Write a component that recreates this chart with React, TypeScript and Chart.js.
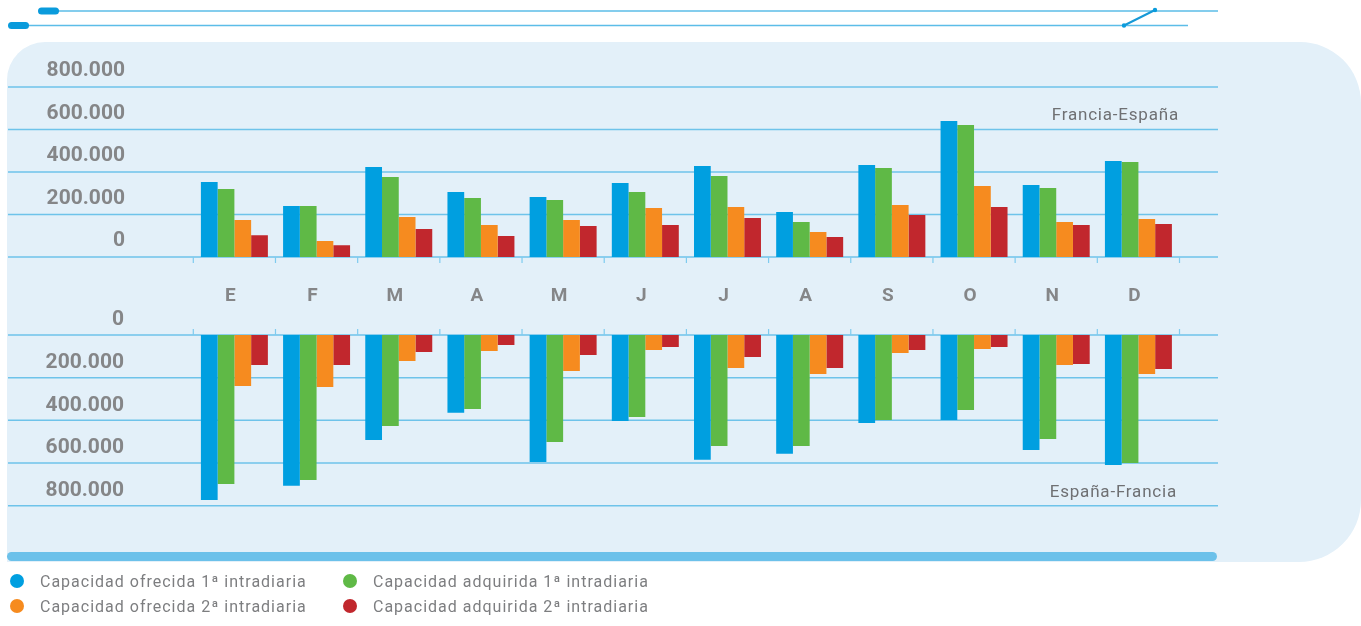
import React, { useEffect, useRef } from 'react';
import { Chart, registerables } from 'chart.js';

Chart.register(...registerables);

// ---- data ----
const months = ['E', 'F', 'M', 'A', 'M', 'J', 'J', 'A', 'S', 'O', 'N', 'D'];
const seriesNames = [
  'Capacidad ofrecida 1ª intradiaria',
  'Capacidad adquirida 1ª intradiaria',
  'Capacidad ofrecida 2ª intradiaria',
  'Capacidad adquirida 2ª intradiaria',
];
const seriesColors = ['#009fe0', '#5fb946', '#f68b1f', '#c1272d'];

// Francia-España (upper panel)
const frEsOfrecida1 = [353000, 240000, 424000, 306000, 282000, 348000, 428000, 212000, 433000, 640000, 339000, 452000];
const frEsAdquirida1 = [320000, 240000, 376000, 278000, 268000, 306000, 381000, 165000, 419000, 621000, 325000, 447000];
const frEsOfrecida2 = [174000, 75000, 188000, 151000, 174000, 231000, 235000, 118000, 245000, 334000, 165000, 179000];
const frEsAdquirida2 = [103000, 56000, 132000, 99000, 146000, 151000, 184000, 94000, 198000, 235000, 151000, 155000];

// España-Francia (lower panel)
const esFrOfrecida1 = [773000, 707000, 492000, 365000, 595000, 403000, 585000, 557000, 412000, 398000, 539000, 609000];
const esFrAdquirida1 = [698000, 679000, 426000, 347000, 501000, 384000, 520000, 520000, 398000, 351000, 487000, 600000];
const esFrOfrecida2 = [239000, 244000, 122000, 75000, 169000, 70000, 155000, 183000, 84000, 66000, 141000, 183000];
const esFrAdquirida2 = [141000, 141000, 80000, 47000, 94000, 56000, 103000, 155000, 70000, 56000, 136000, 159000];

const tickValues = [0, 200000, 400000, 600000, 800000];
const tickLabels = ['0', '200.000', '400.000', '600.000', '800.000'];
const topTitle = 'Francia-España';
const bottomTitle = 'España-Francia';

// scale ranges (upper panel grows up, lower panel grows down)
const topMin = -1170000;
const topMax = 800000;
const botMin = -1162000;
const botMax = 800000;

const W = 1361;
const H = 626;
const GRID = '#6ec3ea';
const LABEL = '#858688';

function roundRectPath(ctx: CanvasRenderingContext2D, x: number, y: number, w: number, h: number, r: number) {
  ctx.beginPath();
  ctx.moveTo(x + r, y);
  ctx.lineTo(x + w - r, y);
  ctx.arcTo(x + w, y, x + w, y + r, r);
  ctx.lineTo(x + w, y + h - r);
  ctx.arcTo(x + w, y + h, x + w - r, y + h, r);
  ctx.lineTo(x + r, y + h);
  ctx.arcTo(x, y + h, x, y + h - r, r);
  ctx.lineTo(x, y + r);
  ctx.arcTo(x, y, x + r, y, r);
  ctx.closePath();
}

const decorPlugin = {
  id: 'decor',
  beforeDraw(chart: any) {
    const ctx: any = chart.ctx;
    const xs = chart.scales.x;
    const yT = chart.scales.yTop;
    const yB = chart.scales.yBot;
    ctx.save();

    // panel background
    ctx.fillStyle = '#e3f0f9';
    ctx.beginPath();
    ctx.moveTo(45, 42);
    ctx.lineTo(1300, 42);
    ctx.arcTo(1361, 42, 1361, 103, 61);
    ctx.lineTo(1361, 500);
    ctx.arcTo(1361, 562, 1299, 562, 62);
    ctx.lineTo(7, 562);
    ctx.lineTo(7, 80);
    ctx.arcTo(7, 42, 45, 42, 38);
    ctx.closePath();
    ctx.fill();

    // top decorative lines
    ctx.strokeStyle = '#5cbde8';
    ctx.lineWidth = 1.5;
    ctx.beginPath();
    ctx.moveTo(45, 11);
    ctx.lineTo(1218, 11);
    ctx.moveTo(15, 25.5);
    ctx.lineTo(1188, 25.5);
    ctx.stroke();
    ctx.fillStyle = '#0a9bdc';
    roundRectPath(ctx, 38, 7.5, 21, 7, 3.5);
    ctx.fill();
    roundRectPath(ctx, 8, 22, 21, 7, 3.5);
    ctx.fill();
    ctx.strokeStyle = '#1598d6';
    ctx.lineWidth = 2;
    ctx.beginPath();
    ctx.moveTo(1124, 25.5);
    ctx.lineTo(1155, 10);
    ctx.stroke();
    ctx.beginPath();
    ctx.arc(1124, 25.5, 2.2, 0, Math.PI * 2);
    ctx.arc(1155, 10, 2.2, 0, Math.PI * 2);
    ctx.fill();

    // grid lines
    ctx.strokeStyle = GRID;
    ctx.lineWidth = 1.5;
    for (const v of tickValues) {
      for (const sc of [yT, yB]) {
        const y = sc.getPixelForValue(v);
        ctx.beginPath();
        ctx.moveTo(8, y);
        ctx.lineTo(1218, y);
        ctx.stroke();
      }
    }

    // category tick marks
    const y0T = yT.getPixelForValue(0);
    const y0B = yB.getPixelForValue(0);
    ctx.lineWidth = 1.2;
    ctx.strokeStyle = '#7fcbef';
    for (let i = 0; i <= months.length; i++) {
      const x = xs.left + (i * xs.width) / months.length;
      ctx.beginPath();
      ctx.moveTo(x, y0T);
      ctx.lineTo(x, y0T + 6);
      ctx.moveTo(x, y0B - 6);
      ctx.lineTo(x, y0B);
      ctx.stroke();
    }

    // y labels
    ctx.fillStyle = LABEL;
    ctx.font = 'bold 21px Roboto';
    ctx.textAlign = 'right';
    ctx.textBaseline = 'middle';
    tickValues.forEach((v, i) => {
      ctx.fillText(tickLabels[i], 125, yT.getPixelForValue(v) - 16);
      ctx.fillText(tickLabels[i], 124, yB.getPixelForValue(v) - 15);
    });

    // month labels
    ctx.font = 'bold 19px Roboto';
    ctx.textAlign = 'center';
    const yMid = (y0T + y0B) / 2 + 0.5;
    months.forEach((m, i) => {
      ctx.fillText(m, xs.getPixelForValue(i) - 4, yMid);
    });

    // panel titles
    ctx.font = '17px Roboto';
    ctx.letterSpacing = '0.8px';
    ctx.fillStyle = '#6f7073';
    ctx.textAlign = 'right';
    ctx.fillText(topTitle, 1179, yT.getPixelForValue(600000) - 14);
    ctx.fillText(bottomTitle, 1177, yB.getPixelForValue(800000) - 13);
    ctx.letterSpacing = '0px';

    // bottom bar
    ctx.fillStyle = '#6cc1ea';
    roundRectPath(ctx, 7, 552, 1210, 9, 4.5);
    ctx.fill();

    ctx.restore();
  },
};

export default function App() {
  const ref = useRef<HTMLCanvasElement>(null);

  useEffect(() => {
    if (!ref.current) return;
    const topSeries = [frEsOfrecida1, frEsAdquirida1, frEsOfrecida2, frEsAdquirida2];
    const botSeries = [esFrOfrecida1, esFrAdquirida1, esFrOfrecida2, esFrAdquirida2];
    const datasets: any[] = [];
    topSeries.forEach((d, i) => {
      datasets.push({
        label: seriesNames[i],
        data: d,
        backgroundColor: seriesColors[i],
        yAxisID: 'yTop',
        stack: 's' + i,
        barPercentage: 1,
        categoryPercentage: 0.815,
      });
    });
    botSeries.forEach((d, i) => {
      datasets.push({
        label: seriesNames[i] + ' (España-Francia)',
        data: d,
        backgroundColor: seriesColors[i],
        yAxisID: 'yBot',
        stack: 's' + i,
        barPercentage: 1,
        categoryPercentage: 0.815,
      });
    });

    const chart = new Chart(ref.current, {
      type: 'bar',
      data: { labels: months, datasets },
      options: {
        responsive: false,
        animation: false,
        devicePixelRatio: 1,
        layout: { padding: { left: 193.3, right: 181.5, top: 87, bottom: 120.3 } },
        plugins: { legend: { display: false }, tooltip: { enabled: false } },
        scales: {
          x: { display: false, offset: true },
          yTop: { display: false, min: topMin, max: topMax },
          yBot: { display: false, min: botMin, max: botMax, reverse: true },
        },
      },
      plugins: [decorPlugin],
    });
    return () => chart.destroy();
  }, []);

  const legendPos = [
    { x: 17, y: 581 },
    { x: 350, y: 581 },
    { x: 17, y: 606 },
    { x: 350, y: 606 },
  ];

  return (
    <div style={{ position: 'absolute', left: 0, top: 0, width: W, height: H, overflow: 'hidden', background: '#fff' }}>
      <canvas ref={ref} width={W} height={H} style={{ display: 'block' }} />
      {seriesNames.map((name, i) => (
        <div
          key={name}
          style={{
            position: 'absolute',
            left: legendPos[i].x - 7,
            top: legendPos[i].y - 10,
            height: 20,
            display: 'flex',
            alignItems: 'center',
            fontFamily: 'Roboto',
            fontSize: 16,
            letterSpacing: '1px',
            color: '#7d7e80',
            whiteSpace: 'nowrap',
          }}
        >
          <span
            style={{
              display: 'inline-block',
              width: 14,
              height: 14,
              borderRadius: 7,
              background: seriesColors[i],
              marginRight: 16,
            }}
          />
          {name}
        </div>
      ))}
    </div>
  );
}
